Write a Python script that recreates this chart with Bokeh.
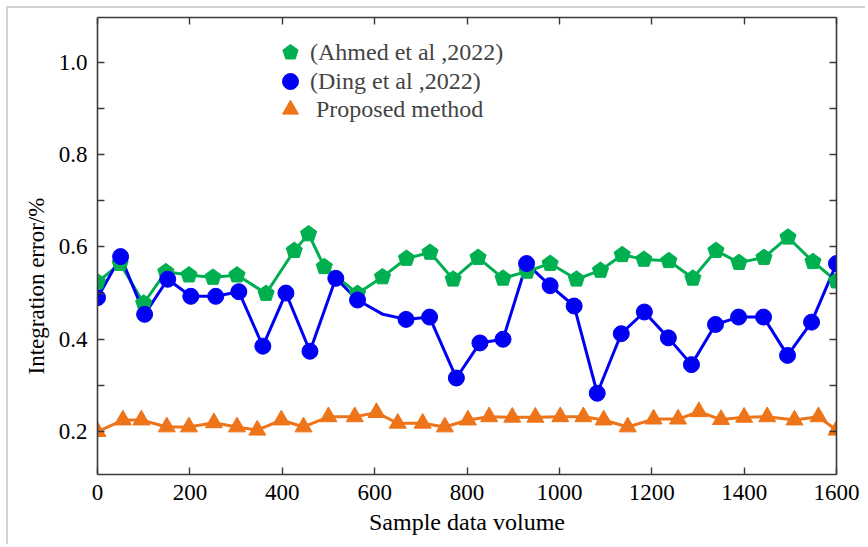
from bokeh.plotting import figure
from bokeh.models import (Range1d, FixedTicker, LinearAxis, Legend, LegendItem,
                          PrintfTickFormatter, CustomLabelingPolicy, Title)
from bokeh.embed import file_html
from bokeh.resources import INLINE

# ---------------- data ----------------
ahmed_x = [0, 49, 100, 148, 198, 250, 302, 365, 426, 457, 491, 563, 617, 669, 720, 770,
           824, 878, 930, 980, 1037, 1089, 1136, 1183, 1237, 1289, 1339, 1389, 1443, 1495, 1549, 1600]
ahmed_y = [0.524, 0.564, 0.478, 0.546, 0.539, 0.534, 0.539, 0.499, 0.592, 0.628, 0.557, 0.499,
           0.535, 0.575, 0.588, 0.530, 0.577, 0.532, 0.547, 0.564, 0.530, 0.549, 0.583, 0.573,
           0.570, 0.532, 0.592, 0.566, 0.577, 0.621, 0.568, 0.526]

ding_x = [0, 50, 102, 152, 202, 256, 306, 358, 408, 460, 516, 563, 668, 719, 777, 828,
          878, 929, 980, 1032, 1082, 1134, 1184, 1236, 1286, 1338, 1388, 1442, 1494, 1546, 1600]
ding_y = [0.490, 0.579, 0.454, 0.530, 0.493, 0.493, 0.503, 0.385, 0.500, 0.374, 0.532, 0.485,
          0.443, 0.448, 0.316, 0.392, 0.400, 0.564, 0.516, 0.472, 0.283, 0.412, 0.459, 0.403,
          0.345, 0.432, 0.448, 0.448, 0.365, 0.437, 0.564]
# bend of the Ding line that has no marker
ding_bend_x = [618]
ding_bend_y = [0.454]

proposed_x = [0, 55, 95, 150, 198, 252, 302, 346, 398, 446, 500, 557, 604, 650, 704, 752, 802,
              848, 898, 948, 1002, 1052, 1096, 1148, 1204, 1257, 1302, 1350, 1400, 1450, 1509, 1561, 1600]
proposed_y = [0.200, 0.225, 0.225, 0.210, 0.210, 0.219, 0.210, 0.203, 0.225, 0.210, 0.232, 0.232,
              0.241, 0.218, 0.218, 0.210, 0.225, 0.232, 0.231, 0.231, 0.232, 0.232, 0.225, 0.210,
              0.227, 0.227, 0.243, 0.226, 0.231, 0.232, 0.225, 0.232, 0.203]

x_ticks = [0, 200, 400, 600, 800, 1000, 1200, 1400, 1600]
y_ticks = [0.2, 0.4, 0.6, 0.8, 1.0]
y_minor = [0.3, 0.5, 0.7, 0.9]

labels = ["(Ahmed et al ,2022)", "(Ding et al ,2022)", " Proposed method"]
x_title = "Sample data volume"
y_title = "Integration error/%"
GREEN, BLUE, ORANGE = "#00B050", "#0000F5", "#EE7419"
FONT = "Liberation Serif"
AXC = "#3a3a3a"

# ---------------- figure ----------------
p = figure(width=859, height=538, output_backend="svg", toolbar_location=None,
           x_range=Range1d(0, 1600), y_range=Range1d(0.107, 1.097),
           min_border_left=89, min_border_right=31, min_border_top=9, min_border_bottom=72)
p.styles = {"border-left": "2px solid #d2d2d2", "border-top": "2px solid #d2d2d2",
            "margin-left": "6px", "margin-top": "6px"}
p.xgrid.visible = False
p.ygrid.visible = False
p.outline_line_color = None
p.background_fill_color = "white"

no_labels = CustomLabelingPolicy(code="for (const i of indices) { if (i < 0) yield i }")

def style_axis(ax, size="23px"):
    ax.axis_line_color = AXC
    ax.axis_line_width = 1.6
    ax.major_tick_line_color = AXC
    ax.minor_tick_line_color = AXC
    ax.major_tick_line_width = 1.4
    ax.minor_tick_line_width = 1.4
    ax.major_tick_in = 7
    ax.major_tick_out = 0
    ax.minor_tick_in = 7
    ax.minor_tick_out = 0
    ax.major_label_text_font = FONT
    ax.major_label_text_color = "black"
    ax.major_label_text_font_size = size
    ax.axis_label_text_font = FONT
    ax.axis_label_text_font_style = "normal"
    ax.axis_label_text_color = "black"

bx = p.xaxis[0]
bx.ticker = FixedTicker(ticks=x_ticks, minor_ticks=[])
style_axis(bx)
bx.axis_label = x_title
bx.axis_label_text_font_size = "24px"
bx.major_label_standoff = 10
bx.axis_label_standoff = 6

ly = p.yaxis[0]
ly.ticker = FixedTicker(ticks=y_ticks, minor_ticks=y_minor)
ly.formatter = PrintfTickFormatter(format="%.1f")
style_axis(ly)
ly.major_label_standoff = 10

# y-axis title: sits lower than the frame centre in the reference
yt = Title(text=y_title, align="left", offset=100, standoff=14,
           text_font=FONT, text_font_size="23px", text_font_style="normal",
           text_color="black")
p.add_layout(yt, "left")

ta = LinearAxis(ticker=FixedTicker(ticks=x_ticks, minor_ticks=[]), major_label_policy=no_labels)
style_axis(ta, "1px")
ta.major_label_standoff = 0
p.add_layout(ta, "above")
ra = LinearAxis(ticker=FixedTicker(ticks=y_ticks, minor_ticks=y_minor), major_label_policy=no_labels)
style_axis(ra, "1px")
ra.major_label_standoff = 0
p.add_layout(ra, "right")

# ---------------- series ----------------
p.line(ahmed_x, ahmed_y, line_color=GREEN, line_width=3)
dl = sorted(zip(ding_x + ding_bend_x, ding_y + ding_bend_y))
p.line([a for a, b in dl], [b for a, b in dl], line_color=BLUE, line_width=3)
p.line(proposed_x, proposed_y, line_color=ORANGE, line_width=3)

r_green = p.ngon(x=ahmed_x, y=ahmed_y, radius=8.5, radius_units="screen", n=5,
                 angle=0.0, fill_color=GREEN, line_color=GREEN)
r_blue = p.scatter(ding_x, ding_y, marker="circle", size=16, fill_color=BLUE, line_color=BLUE)
r_orange = p.scatter(proposed_x, proposed_y, marker="triangle", size=17,
                     fill_color=ORANGE, line_color=ORANGE)

# one legend box per entry, so that the rows can sit closer than the glyph box
legend_rows = [(labels[0], r_green, 402), (labels[1], r_blue, 373), (labels[2], r_orange, 345)]
for text, rend, ypos in legend_rows:
    lg = Legend(items=[LegendItem(label=text, renderers=[rend])],
                location=(173, ypos), orientation="vertical")
    lg.background_fill_alpha = 0
    lg.border_line_color = None
    lg.label_text_font = FONT
    lg.label_text_font_size = "24px"
    lg.glyph_width = 40
    lg.glyph_height = 40
    lg.label_height = 20
    lg.label_standoff = 0
    lg.spacing = 0
    lg.padding = 0
    lg.margin = 0
    p.add_layout(lg, "center")

open("out.html", "w").write(file_html(p, INLINE))
